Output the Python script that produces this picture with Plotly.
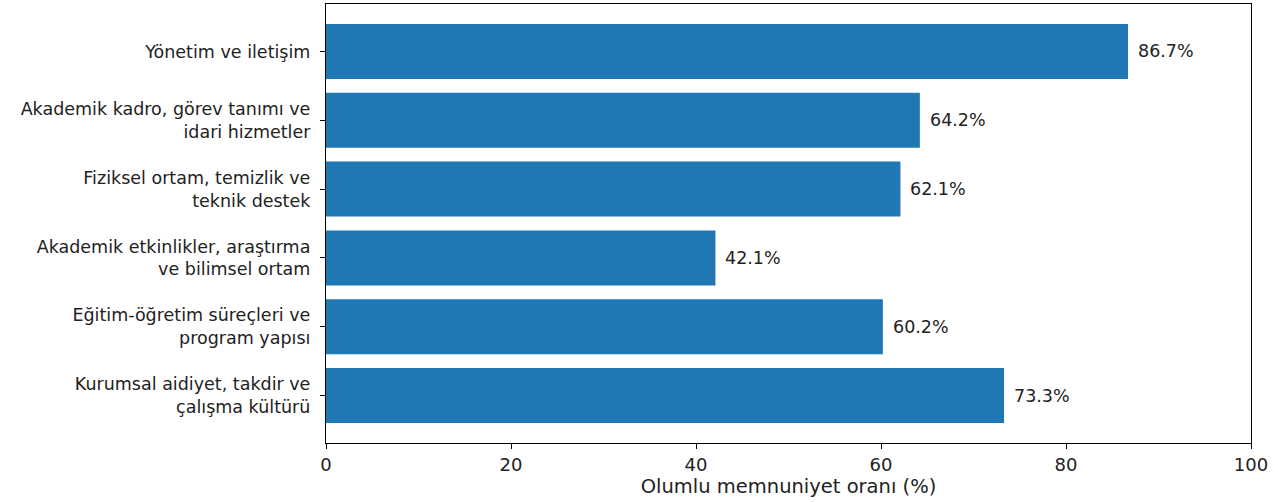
import plotly.graph_objects as go

categories = [
    "Kurumsal aidiyet, takdir ve<br>çalışma kültürü",
    "Eğitim-öğretim süreçleri ve<br>program yapısı",
    "Akademik etkinlikler, araştırma<br>ve bilimsel ortam",
    "Fiziksel ortam, temizlik ve<br>teknik destek",
    "Akademik kadro, görev tanımı ve<br>idari hizmetler",
    "Yönetim ve iletişim",
]
values = [73.3, 60.2, 42.1, 62.1, 64.2, 86.7]
labels = [f"{v:.1f}%" for v in values]
x_ticks = [0, 20, 40, 60, 80, 100]

font = "DejaVu Sans"
fig = go.Figure()
fig.add_trace(go.Bar(
    y=list(range(len(categories))), x=values, orientation="h",
    marker=dict(color="#1f77b4", line=dict(width=0)),
    width=0.8, hoverinfo="skip",
))
for i, (v, t) in enumerate(zip(values, labels)):
    fig.add_annotation(x=v, y=i, text=t, showarrow=False, xanchor="left",
                       xshift=8, font=dict(family=font, size=17.5, color="#222"))

fig.update_layout(
    width=1278, height=502,
    margin=dict(l=326, r=27, t=4, b=59),
    plot_bgcolor="white", paper_bgcolor="white",
    showlegend=False,
    font=dict(family=font, size=17, color="#222"),
)
fig.update_xaxes(
    range=[0, 100], tickvals=x_ticks, ticktext=[str(t) for t in x_ticks],
    showgrid=False, zeroline=False, showline=True, linecolor="black", linewidth=1.2,
    mirror=True, ticks="outside", ticklen=5, tickcolor="black",
    tickfont=dict(size=18),
    title=dict(text="Olumlu memnuniyet oranı (%)", font=dict(size=19.5), standoff=2),
)
fig.update_yaxes(
    range=[-0.69, 5.69], tickvals=list(range(len(categories))), ticktext=categories,
    showgrid=False, zeroline=False, showline=True, linecolor="black", linewidth=1.2,
    mirror=True, ticks="outside", ticklen=5, tickcolor="black",
    tickfont=dict(size=17.5), ticklabelstandoff=6, automargin=False,
)
fig.write_html("out.html", config={"displayModeBar": False},
               post_script="document.body.style.margin='0';")
